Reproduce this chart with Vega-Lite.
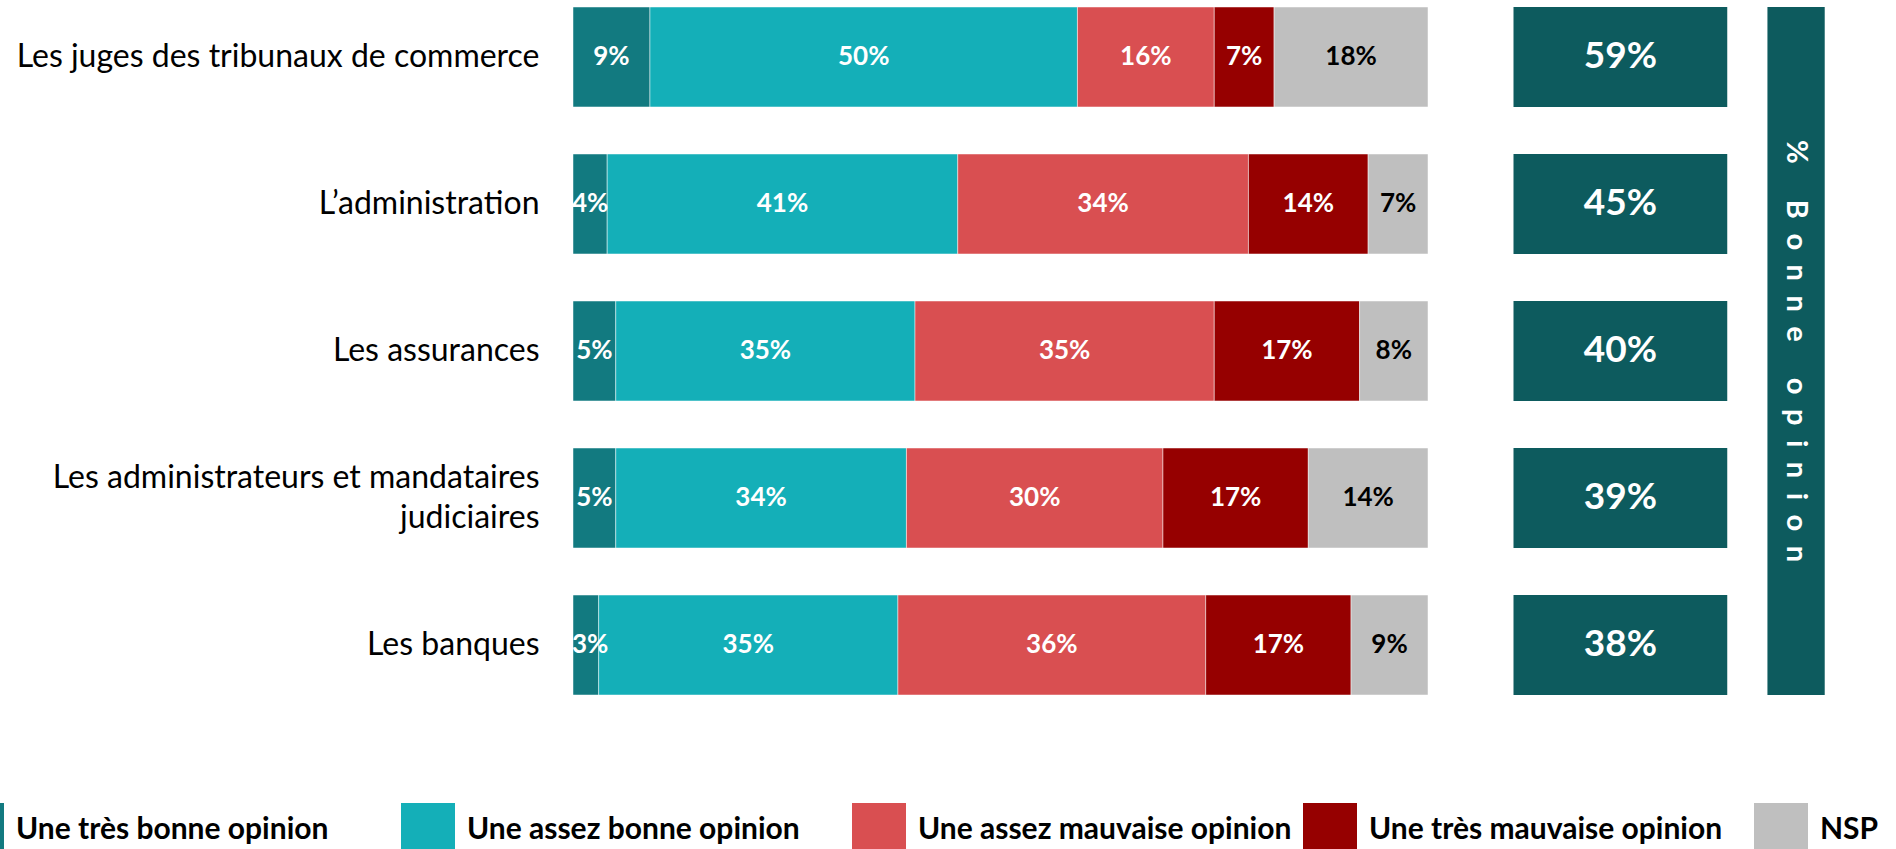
{
  "$schema": "https://vega.github.io/schema/vega-lite/v6.json",
  "autosize": {"type": "none"},
  "padding": {"left": 573, "top": 7, "right": 468, "bottom": 154},
  "width": 855,
  "height": 688,
  "background": "white",
  "config": {"view": {"stroke": null}, "font": "Lato"},
  "datasets": {
    "opinions": [
      {"item": "Les juges des tribunaux de commerce", "opinion": "Une très bonne opinion", "pct": 9},
      {"item": "Les juges des tribunaux de commerce", "opinion": "Une assez bonne opinion", "pct": 50},
      {"item": "Les juges des tribunaux de commerce", "opinion": "Une assez mauvaise opinion", "pct": 16},
      {"item": "Les juges des tribunaux de commerce", "opinion": "Une très mauvaise opinion", "pct": 7},
      {"item": "Les juges des tribunaux de commerce", "opinion": "NSP", "pct": 18},
      {"item": "L’administration", "opinion": "Une très bonne opinion", "pct": 4},
      {"item": "L’administration", "opinion": "Une assez bonne opinion", "pct": 41},
      {"item": "L’administration", "opinion": "Une assez mauvaise opinion", "pct": 34},
      {"item": "L’administration", "opinion": "Une très mauvaise opinion", "pct": 14},
      {"item": "L’administration", "opinion": "NSP", "pct": 7},
      {"item": "Les assurances", "opinion": "Une très bonne opinion", "pct": 5},
      {"item": "Les assurances", "opinion": "Une assez bonne opinion", "pct": 35},
      {"item": "Les assurances", "opinion": "Une assez mauvaise opinion", "pct": 35},
      {"item": "Les assurances", "opinion": "Une très mauvaise opinion", "pct": 17},
      {"item": "Les assurances", "opinion": "NSP", "pct": 8},
      {"item": "Les administrateurs et mandataires judiciaires", "opinion": "Une très bonne opinion", "pct": 5},
      {"item": "Les administrateurs et mandataires judiciaires", "opinion": "Une assez bonne opinion", "pct": 34},
      {"item": "Les administrateurs et mandataires judiciaires", "opinion": "Une assez mauvaise opinion", "pct": 30},
      {"item": "Les administrateurs et mandataires judiciaires", "opinion": "Une très mauvaise opinion", "pct": 17},
      {"item": "Les administrateurs et mandataires judiciaires", "opinion": "NSP", "pct": 14},
      {"item": "Les banques", "opinion": "Une très bonne opinion", "pct": 3},
      {"item": "Les banques", "opinion": "Une assez bonne opinion", "pct": 35},
      {"item": "Les banques", "opinion": "Une assez mauvaise opinion", "pct": 36},
      {"item": "Les banques", "opinion": "Une très mauvaise opinion", "pct": 17},
      {"item": "Les banques", "opinion": "NSP", "pct": 9}
    ],
    "bonne": [
      {"item": "Les juges des tribunaux de commerce", "bonne": 59},
      {"item": "L’administration", "bonne": 45},
      {"item": "Les assurances", "bonne": 40},
      {"item": "Les administrateurs et mandataires judiciaires", "bonne": 39},
      {"item": "Les banques", "bonne": 38}
    ],
    "titre": [
      {"titre": "% Bonne opinion", "debut": "Les juges des tribunaux de commerce", "fin": "Les banques"}
    ]
  },
  "encoding": {
    "y": {
      "field": "item", "type": "nominal",
      "scale": {"domain": ["Les juges des tribunaux de commerce", "L’administration", "Les assurances", "Les administrateurs et mandataires judiciaires", "Les banques"], "paddingInner": 0.32, "paddingOuter": 0},
      "axis": {
        "title": null, "domain": false, "ticks": false,
        "labelFont": "Lato", "labelFontSize": 32, "labelColor": "#000000",
        "labelPadding": 34, "labelLimit": 700, "labelLineHeight": 40,
        "minExtent": 573, "maxExtent": 573,
        "labelOffset": {"condition": {"test": "datum.value == 'Les administrateurs et mandataires judiciaires'", "value": -20}, "value": 0},
        "labelExpr": "datum.label == 'Les administrateurs et mandataires judiciaires' ? ['Les administrateurs et mandataires', 'judiciaires'] : datum.label"
      }
    }
  },
  "layer": [
    {
      "data": {"name": "opinions"},
      "transform": [
        {"calculate": "indexof(['Une très bonne opinion','Une assez bonne opinion','Une assez mauvaise opinion','Une très mauvaise opinion','NSP'], datum.opinion)", "as": "ordre"},
        {"stack": "pct", "groupby": ["item"], "sort": [{"field": "ordre", "order": "ascending"}], "as": ["x0", "x1"]},
        {"calculate": "max((datum.x0 + datum.x1) / 2, 2.0)", "as": "xm"},
        {"calculate": "datum.pct + '%'", "as": "label"}
      ],
      "layer": [
        {
          "mark": {"type": "bar", "stroke": "#ffffff", "strokeWidth": 0.8, "strokeOpacity": 0.6},
          "encoding": {
            "x": {"field": "x0", "type": "quantitative", "scale": {"domain": [0, 100], "nice": false, "zero": false}, "axis": null},
            "x2": {"field": "x1"},
            "color": {
              "field": "opinion", "type": "nominal",
              "scale": {
                "domain": ["Une très bonne opinion", "Une assez bonne opinion", "Une assez mauvaise opinion", "Une très mauvaise opinion", "NSP"],
                "range": ["#127a80", "#14afb8", "#d94f51", "#960000", "#bfbfbf"]
              },
              "legend": {
                "title": null, "orient": "none", "legendX": -623, "legendY": 796,
                "direction": "horizontal", "columns": 5, "columnPadding": 11, "gridAlign": "all",
                "symbolType": "square", "symbolSize": 2916, "symbolStrokeWidth": 0, "symbolOpacity": 1,
                "labelFont": "Lato", "labelFontWeight": "bold", "labelFontSize": 30, "labelColor": "#000000",
                "labelOffset": 12, "labelLimit": 1000, "padding": 0
              }
            }
          }
        },
        {
          "mark": {"type": "text", "font": "Lato", "fontWeight": "bold", "fontSize": 26, "align": "center", "baseline": "middle"},
          "encoding": {
            "x": {"field": "xm", "type": "quantitative"},
            "text": {"field": "label"},
            "color": {"condition": {"test": "datum.opinion == 'NSP'", "value": "#000000"}, "value": "#ffffff"}
          }
        }
      ]
    },
    {
      "data": {"name": "bonne"},
      "transform": [{"calculate": "datum.bonne + '%'", "as": "label"}],
      "layer": [
        {
          "mark": {"type": "bar", "color": "#0d5b5e"},
          "encoding": {
            "x": {"datum": 110, "type": "quantitative"},
            "x2": {"datum": 135}
          }
        },
        {
          "mark": {"type": "text", "font": "Lato", "fontWeight": "bold", "fontSize": 37, "color": "#ffffff", "align": "center", "baseline": "middle"},
          "encoding": {
            "x": {"datum": 122.5, "type": "quantitative"},
            "text": {"field": "label"}
          }
        }
      ]
    },
    {
      "data": {"name": "titre"},
      "transform": [{"calculate": "join(split(datum.titre, ''), '\u2002')", "as": "espace"}],
      "layer": [
        {
          "mark": {"type": "bar", "color": "#0d5b5e"},
          "encoding": {
            "x": {"datum": 139.7, "type": "quantitative"},
            "x2": {"datum": 146.4},
            "y": {"field": "debut", "type": "nominal", "bandPosition": 0},
            "y2": {"field": "fin", "bandPosition": 1}
          }
        },
        {
          "mark": {"type": "text", "font": "Lato", "fontWeight": "bold", "fontSize": 29, "color": "#ffffff", "angle": 90, "align": "center", "baseline": "middle"},
          "encoding": {
            "x": {"datum": 143.05, "type": "quantitative"},
            "y": {"value": {"expr": "height / 2"}},
            "text": {"field": "espace"}
          }
        }
      ]
    }
  ]
}
